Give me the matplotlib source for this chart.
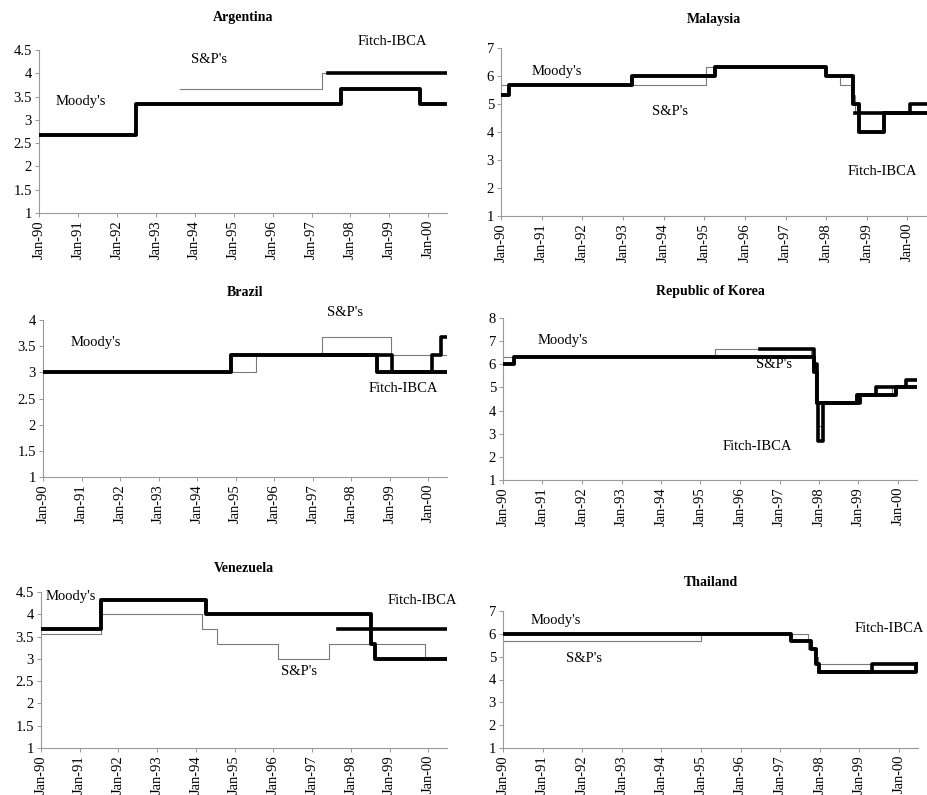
import numpy as np
import matplotlib
matplotlib.use("Agg")
import matplotlib.pyplot as plt
from matplotlib.ticker import FixedLocator, FuncFormatter

plt.rcParams["font.family"] = ["Liberation Serif", "DejaVu Serif"]

# rating scale (higher = better), change dates and new value
END = "2000-06-25"

arg_moodys_dates = ["1990-01-01", "1992-07-01", "1997-10-01", "1999-10-15"]
arg_moodys_vals = [2.67, 3.33, 3.67, 3.33]
arg_sp_dates = ["1993-08-15", "1997-04-10"]
arg_sp_vals = [3.67, 4.0]
arg_fitch_dates = ["1997-06-01"]
arg_fitch_vals = [4.0]

mys_moodys_dates = ["1990-01-01", "1990-03-10", "1993-03-25", "1995-04-10", "1998-01-01",
                    "1998-09-01", "1998-10-20", "1999-06-01"]
mys_moodys_vals = [5.33, 5.67, 6.0, 6.33, 6.0, 5.0, 4.0, 4.67]
mys_sp_dates = ["1990-01-01", "1995-01-20", "1998-01-01", "1998-05-01", "1998-08-10", "1998-09-15"]
mys_sp_vals = [5.67, 6.33, 6.0, 5.67, 5.33, 4.67]
mys_fitch_dates = ["1998-09-15", "2000-01-25"]
mys_fitch_vals = [4.67, 5.0]

bra_moodys_dates = ["1990-01-01", "1994-11-20", "1998-09-05"]
bra_moodys_vals = [3.0, 3.33, 3.0]
bra_sp_dates = ["1990-01-01", "1995-07-10", "1997-04-01", "1999-01-15"]
bra_sp_vals = [3.0, 3.33, 3.67, 3.33]
bra_fitch_dates = ["1997-04-01", "1999-01-20", "2000-02-05", "2000-05-01"]
bra_fitch_vals = [3.33, 3.0, 3.33, 3.67]

kor_moodys_dates = ["1990-01-01", "1990-04-10", "1997-11-20", "1997-12-10", "1998-12-20", "1999-12-15"]
kor_moodys_vals = [6.0, 6.33, 5.67, 4.33, 4.67, 5.0]
kor_sp_dates = ["1990-01-01", "1995-05-15", "1997-10-20", "1997-11-20", "1997-12-10",
                "1997-12-22", "1998-02-10", "1999-01-20", "1999-11-10"]
kor_sp_vals = [6.33, 6.67, 6.33, 5.67, 4.33, 3.33, 4.33, 4.67, 5.0]
kor_fitch_dates = ["1996-07-01", "1997-11-20", "1997-12-10", "1997-12-23", "1998-02-05",
                   "1999-01-15", "1999-06-10", "2000-03-15"]
kor_fitch_vals = [6.67, 6.0, 4.33, 2.67, 4.33, 4.67, 5.0, 5.33]

ven_moodys_dates = ["1990-01-01", "1991-07-25", "1994-04-01", "1998-07-12", "1998-08-20"]
ven_moodys_vals = [3.67, 4.33, 4.0, 3.33, 3.0]
ven_sp_dates = ["1990-01-01", "1991-07-20", "1994-03-01", "1994-07-15", "1996-02-10",
                "1997-06-05", "1999-12-05"]
ven_sp_vals = [3.55, 4.0, 3.67, 3.33, 3.0, 3.33, 3.0]
ven_fitch_dates = ["1997-09-01"]
ven_fitch_vals = [3.67]

tha_moodys_dates = ["1990-01-01", "1997-04-10", "1997-10-10", "1997-11-25", "1997-12-25", "2000-06-10"]
tha_moodys_vals = [6.0, 5.67, 5.33, 4.67, 4.33, 4.67]
tha_sp_dates = ["1990-01-01", "1995-01-05", "1997-09-10", "1997-11-10", "1997-12-20"]
tha_sp_vals = [5.67, 6.0, 5.33, 5.0, 4.67]
tha_fitch_dates = ["1997-12-25", "1999-04-30"]
tha_fitch_vals = [4.33, 4.67]

years = np.arange(1990, 2001)
tick_dates = np.array(["%d-01-01" % y for y in years], dtype="datetime64[D]")


def step_xy(dates, vals):
    d = np.array(list(dates) + [END], dtype="datetime64[D]")
    v = list(vals) + [vals[-1]]
    return d, v


def panel(rect, title, title_y, ymax, ystep, series, labels):
    ax = fig.add_axes(rect)
    (md, mv), (sd, sv), (fd, fv) = series
    d, v = step_xy(sd, sv)
    ax.step(d, v, where="post", color="#7a7a7a", lw=0.8, zorder=2)
    d, v = step_xy(fd, fv)
    ax.step(d, v, where="post", color="black", lw=2.6, zorder=3)
    d, v = step_xy(md, mv)
    ax.step(d, v, where="post", color="black", lw=2.8, zorder=4)

    ax.set_xlim(np.datetime64("1990-01-01"), np.datetime64(END))
    ax.set_ylim(1, ymax)
    ax.yaxis.set_major_locator(FixedLocator(np.arange(1, ymax + 0.01, ystep)))
    ax.yaxis.set_major_formatter(FuncFormatter(lambda y, p: "%g" % y))
    ax.set_xticks(tick_dates)
    ax.set_xticklabels(["Jan-%02d" % (y % 100) for y in years], rotation=90)
    ax.tick_params(labelsize=10.5, length=3, width=0.6, color="#888888", pad=2)
    for s in ["top", "right"]:
        ax.spines[s].set_visible(False)
    for s in ["left", "bottom"]:
        ax.spines[s].set_color("#999999")
        ax.spines[s].set_linewidth(0.8)
    for txt, xd, yv, ha in labels:
        ax.text(np.datetime64(xd), yv, txt, ha=ha, va="center", fontsize=10.5, clip_on=False)
    cx = rect[0] + rect[2] / 2
    fig.text(cx, 1 - title_y / 795, title, ha="center", va="center", fontsize=10, fontweight="bold")
    return ax


fig = plt.figure(figsize=(9.27, 7.95), dpi=100)

panel([39 / 927, 1 - 213 / 795, 408 / 927, 163 / 795], "Argentina", 18, 4.5, 0.5,
      [(arg_moodys_dates, arg_moodys_vals), (arg_sp_dates, arg_sp_vals), (arg_fitch_dates, arg_fitch_vals)],
      [("Moody's", "1991-02-01", 3.39, "center"), ("S&P's", "1994-05-15", 4.29, "center"),
       ("Fitch-IBCA", "1999-02-01", 4.68, "center")])

panel([501 / 927, 1 - 216 / 795, 426 / 927, 168 / 795], "Malaysia", 20, 7, 1,
      [(mys_moodys_dates, mys_moodys_vals), (mys_sp_dates, mys_sp_vals), (mys_fitch_dates, mys_fitch_vals)],
      [("Moody's", "1991-05-15", 6.17, "center"), ("S&P's", "1994-03-01", 4.73, "center"),
       ("Fitch-IBCA", "1999-05-25", 2.59, "center")])

panel([43 / 927, 1 - 477 / 795, 404 / 927, 157 / 795], "Brazil", 293, 4, 0.5,
      [(bra_moodys_dates, bra_moodys_vals), (bra_sp_dates, bra_sp_vals), (bra_fitch_dates, bra_fitch_vals)],
      [("Moody's", "1991-05-15", 3.57, "center"), ("S&P's", "1997-11-01", 4.15, "center"),
       ("Fitch-IBCA", "1999-05-05", 2.70, "center")])

panel([503 / 927, 1 - 480 / 795, 414 / 927, 162 / 795], "Republic of Korea", 292, 8, 1,
      [(kor_moodys_dates, kor_moodys_vals), (kor_sp_dates, kor_sp_vals), (kor_fitch_dates, kor_fitch_vals)],
      [("Moody's", "1991-07-10", 7.02, "center"), ("S&P's", "1996-11-15", 6.01, "center"),
       ("Fitch-IBCA", "1996-06-10", 2.44, "center")])

panel([41 / 927, 1 - 748 / 795, 406 / 927, 156 / 795], "Venezuela", 568, 4.5, 0.5,
      [(ven_moodys_dates, ven_moodys_vals), (ven_sp_dates, ven_sp_vals), (ven_fitch_dates, ven_fitch_vals)],
      [("Moody's", "1990-02-10", 4.39, "left"), ("S&P's", "1996-09-01", 2.71, "center"),
       ("Fitch-IBCA", "1999-11-01", 4.31, "center")])

panel([503 / 927, 1 - 748 / 795, 415 / 927, 137 / 795], "Thailand", 583, 7, 1,
      [(tha_moodys_dates, tha_moodys_vals), (tha_sp_dates, tha_sp_vals), (tha_fitch_dates, tha_fitch_vals)],
      [("Moody's", "1991-05-01", 6.57, "center"), ("S&P's", "1992-01-20", 4.93, "center"),
       ("Fitch-IBCA", "1999-10-01", 6.24, "center")])

fig.savefig("out.png", dpi=100, facecolor="white")
